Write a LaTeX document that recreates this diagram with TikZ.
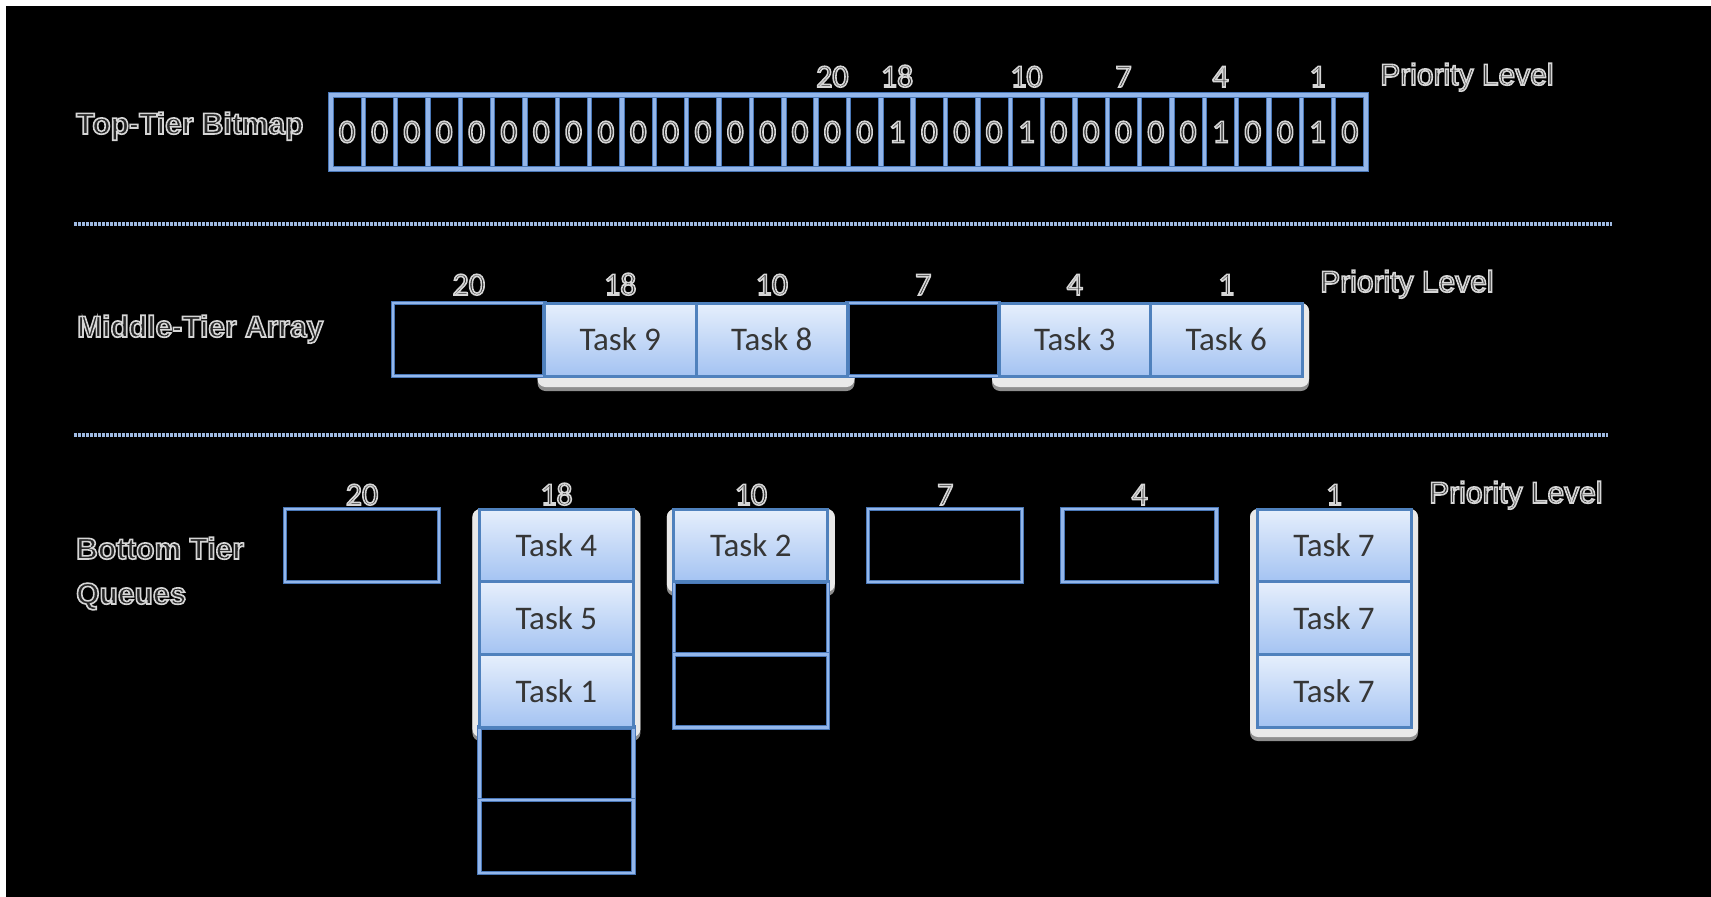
\documentclass[tikz,border=0pt]{standalone}
\usepackage{fontspec}
\setmainfont{Liberation Sans}
\newfontfamily\calfont{Carlito}

\definecolor{dbdark}{HTML}{4A78B8}
\definecolor{dblight}{HTML}{93B6EA}
\definecolor{taskedge}{HTML}{4F81BD}
\definecolor{tasktop}{HTML}{E6EFFC}
\definecolor{taskbot}{HTML}{A4C3F2}
\definecolor{tasktext}{HTML}{363636}
\definecolor{glyphfill}{HTML}{262626}
\definecolor{dotblue}{HTML}{9FBAE2}
\definecolor{shadowlight}{HTML}{E9E9E9}
\definecolor{shadowdark}{HTML}{8E8E8E}

% outlined lettering: dark glyph fill, light stroke (PDF text render mode 2)
\newcommand\outl[1]{\special{pdf:literal direct 2 Tr 1.6 w 0.84 0.84 0.84 RG}#1\special{pdf:literal direct 0 Tr}}

\begin{document}
\begin{tikzpicture}[x=1pt,y=-1pt,
  lbl/.style={inner sep=0, anchor=base west, text=glyphfill,
    font=\fontsize{30}{36}\selectfont\bfseries},
  prio/.style={inner sep=0, anchor=base west, text=glyphfill,
    font=\fontsize{30}{36}\selectfont},
  numlbl/.style={inner sep=0, anchor=base, text=glyphfill,
    font=\calfont\fontsize{32}{36}\selectfont},
  bitdigit/.style={inner sep=0, text=glyphfill,
    minimum width=32.34pt, minimum height=74pt,
    font=\calfont\fontsize{33}{38}\selectfont},
  dline/.style={draw=dbdark, double=dblight, line width=1pt, double distance=2.4pt},
  bitline/.style={draw=dbdark, double=dblight, line width=1pt, double distance=3.4pt},
  emptycell/.style={dline, fill=black, inner sep=0},
  taskcell/.style={draw=taskedge, line width=3pt, top color=tasktop, bottom color=taskbot,
    text=tasktext, inner sep=0, font=\calfont\fontsize{33}{38}\selectfont},
  midcell/.style={minimum width=151.5pt, minimum height=73pt},
  botcell/.style={minimum width=154pt, minimum height=72.8pt},
  shadowedge/.style={rounded corners=8pt, fill=shadowdark},
  shadowbody/.style={rounded corners=8pt, fill=shadowlight},
  sepline/.style={draw=dotblue, line width=3.2pt, dash pattern=on 2.8pt off 1.2pt}
]
\useasboundingbox (0,0) rectangle (1711,897);
% page: white strip on top and left, black field
\fill[white] (0,0) rectangle (1711,897);
\fill[black] (6,6) rectangle (1711,897);

% ---------- top tier: 32-bit bitmap ----------
\node[lbl] (toplbl) at (76,134) {\outl{Top-Tier Bitmap}};
\foreach \i in {1,...,31}
  \draw[bitline] ({331+\i*32.34375},95) -- ({331+\i*32.34375},169);
\draw[bitline] (331,95) rectangle (1366,169);
\foreach \b [count=\i from 0] in {0,0,0,0,0,0,0,0,0,0,0,0,0,0,0,0,0,1,0,0,0,1,0,0,0,0,0,1,0,0,1,0}
  \node[bitdigit] (bit\i) at ({331+(\i+0.5)*32.34375},132) {\outl{\b}};
\foreach \n/\i in {20/15,18/17,10/21,7/24,4/27,1/30}
  \node[numlbl] (tp\n) at ({331+(\i+0.5)*32.34375},87) {\outl{\n}};
\node[prio] (topprio) at (1380,85) {\outl{Priority Level}};

% separators
\coordinate (sepAa) at (74,224);
\coordinate (sepAb) at (1612,224);
\coordinate (sepBa) at (74,435);
\coordinate (sepBb) at (1608,435);
\draw[sepline] (sepAa) -- (sepAb);
\draw[sepline] (sepBa) -- (sepBb);

% ---------- middle tier: array ----------
\node[lbl] (midlbl) at (77,337) {\outl{Middle-Tier Array}};
\path[shadowedge] (537.5,303) rectangle (854.5,391);
\path[shadowbody] (537.5,303) rectangle (854.5,387);
\path[shadowedge] (992,303) rectangle (1309,391);
\path[shadowbody] (992,303) rectangle (1309,387);
\node[emptycell, midcell] (m20) at (468.75,339.5) {};
\node[emptycell, midcell] (m7)  at (923.25,339.5) {};
\node[taskcell, midcell] (m18) at (620.25,339.5) {Task 9};
\node[taskcell, midcell] (m10) at (771.75,339.5) {Task 8};
\node[taskcell, midcell] (m4)  at (1074.75,339.5) {Task 3};
\node[taskcell, midcell] (m1)  at (1226.25,339.5) {Task 6};
\foreach \n/\x in {20/468.75,18/620.25,10/771.75,7/923.25,4/1074.75,1/1226.25}
  \node[numlbl] (mp\n) at (\x,295) {\outl{\n}};
\node[prio] (midprio) at (1320,292) {\outl{Priority Level}};

% ---------- bottom tier: queues ----------
\node[lbl] (botlbla) at (76,559) {\outl{Bottom Tier}};
\node[lbl] (botlblb) at (76,604) {\outl{Queues}};
\path[shadowedge] (472.4,509) rectangle (640.4,741);
\path[shadowbody] (472.4,509) rectangle (640.4,737);
\path[shadowedge] (666.8,509) rectangle (834.8,596);
\path[shadowbody] (666.8,509) rectangle (834.8,592);
\path[shadowedge] (1250,509) rectangle (1418,741);
\path[shadowbody] (1250,509) rectangle (1418,737);
% priority 20
\node[emptycell, botcell] (q20a) at (362,545.4) {};
% priority 18
\node[emptycell, botcell] (q18d) at (556.4,763.8) {};
\node[emptycell, botcell] (q18e) at (556.4,836.6) {};
\node[taskcell, botcell] (q18a) at (556.4,545.4) {Task 4};
\node[taskcell, botcell] (q18b) at (556.4,618.2) {Task 5};
\node[taskcell, botcell] (q18c) at (556.4,691.0) {Task 1};
% priority 10
\node[emptycell, botcell] (q10b) at (750.8,618.2) {};
\node[emptycell, botcell] (q10c) at (750.8,691.0) {};
\node[taskcell, botcell] (q10a) at (750.8,545.4) {Task 2};
% priorities 7 and 4
\node[emptycell, botcell] (q7a) at (945.2,545.4) {};
\node[emptycell, botcell] (q4a) at (1139.6,545.4) {};
% priority 1
\node[taskcell, botcell] (q1a) at (1334,545.4) {Task 7};
\node[taskcell, botcell] (q1b) at (1334,618.2) {Task 7};
\node[taskcell, botcell] (q1c) at (1334,691.0) {Task 7};
\foreach \n/\x in {20/362,18/556.4,10/750.8,7/945.2,4/1139.6,1/1334}
  \node[numlbl] (bp\n) at (\x,505) {\outl{\n}};
\node[prio] (botprio) at (1429,503) {\outl{Priority Level}};
\end{tikzpicture}
\end{document}
